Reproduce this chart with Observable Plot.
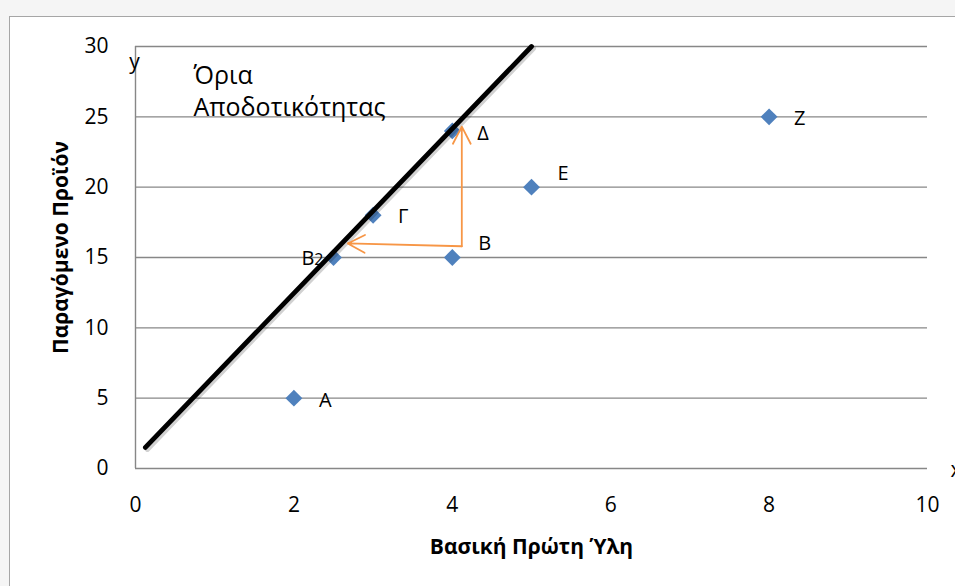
<!DOCTYPE html>
<html>
<head>
<meta charset="utf-8">
<script src="https://cdn.jsdelivr.net/npm/d3@7"></script>
<script src="https://cdn.jsdelivr.net/npm/@observablehq/plot@0.6"></script>
<style>
  html, body { margin: 0; padding: 0; background: #fff; }
  #page { position: relative; width: 955px; height: 586px; overflow: hidden; background: #f5f5f5; }
  #box { position: absolute; left: 9px; top: 16px; width: 960px; height: 600px; background: #fff; border-left: 1.5px solid #a6a6a6; border-top: 1.5px solid #a6a6a6; }
  #chart { position: absolute; left: 0; top: 0; }
  #chart svg { font-family: "Open Sans", "Noto Sans", sans-serif; }
</style>
</head>
<body>
<div id="page"><div id="box"></div><div id="chart"></div></div>
<script>
// Production units: raw material used (x) and product obtained (y)
const unitNames = ["A", "B", "B2", "Γ", "Δ", "E", "Z"];
const rawMaterial = [2, 4, 2.5, 3, 4, 5, 8];
const product = [5, 15, 15, 18, 24, 20, 25];

// Efficiency frontier drawn through the best units
const frontierX = [0.125, 5];
const frontierY = [1.5, 30];

// Moves of unit B towards the frontier (input- and output-oriented)
const moveX1 = [4.12, 4.12];
const moveY1 = [15.8, 15.8];
const moveX2 = [2.68, 4.12];
const moveY2 = [16.0, 24.3];

const xTicks = [0, 2, 4, 6, 8, 10];
const yTicks = [0, 5, 10, 15, 20, 25, 30];

const xTitle = "Βασική Πρώτη Ύλη";
const yTitle = "Παραγόμενο Προϊόν";
const frontierNote = "Όρια\nΑποδοτικότητας";

const units = unitNames.map((name, i) => ({name, x: rawMaterial[i], y: product[i]}));
const frontier = frontierX.map((x, i) => ({x, y: frontierY[i]}));
const moves = moveX1.map((x1, i) => ({x1, y1: moveY1[i], x2: moveX2[i], y2: moveY2[i]}));

// label placement around each diamond
const labelShift = {A: [25, 2], B: [26, -14], B2: [-10, 1], "Γ": [25, 1], "Δ": [25, 3], E: [26, -14], Z: [25, 2]};

const gridColor = "#878787";

const chart = Plot.plot({
  width: 955,
  height: 586,
  marginLeft: 135,
  marginRight: 28,
  marginTop: 46,
  marginBottom: 118,
  style: {background: "transparent", fontSize: "21px", color: "#000"},
  x: {domain: [0, 10], ticks: xTicks, tickSize: 0, tickPadding: 29, label: null},
  y: {domain: [0, 30], ticks: yTicks, tickSize: 0, tickPadding: 27, label: null},
  marks: [
    Plot.ruleY(yTicks, {x1: 0, x2: 10, stroke: gridColor, strokeWidth: 1.4}),
    Plot.ruleX([0], {y1: 0, y2: 30, stroke: gridColor, strokeWidth: 1.4}),
    Plot.dot(units, {x: "x", y: "y", symbol: "diamond2", r: 7.6, fill: "#4F81BD", stroke: "none"}),
    Plot.line(frontier, {x: "x", y: "y", stroke: "#000", strokeOpacity: 0.18, strokeWidth: 5, dx: 2, dy: 2}),
    Plot.line(frontier, {x: "x", y: "y", stroke: "#000", strokeWidth: 4.8}),
    Plot.arrow(moves, {x1: "x1", y1: "y1", x2: "x2", y2: "y2", stroke: "#F79646", strokeWidth: 1.8, headLength: 16, headAngle: 55}),
    ...unitNames.map(n => Plot.text(units.filter(d => d.name === n), {
      x: "x", y: "y", text: "name",
      textAnchor: labelShift[n][0] < 0 ? "end" : "start",
      dx: labelShift[n][0], dy: labelShift[n][1],
      fontSize: 20, fill: "#000"
    })),
    Plot.text([frontierNote], {frameAnchor: "top-left", textAnchor: "start", lineAnchor: "top", dx: 58, dy: 14, fontSize: 25, lineHeight: 1.3, fill: "#000"}),
    Plot.text(["y"], {frameAnchor: "top-left", textAnchor: "middle", dx: -1, dy: 8, fontSize: 21, fill: "#000"}),
    Plot.text(["x"], {frameAnchor: "bottom-right", textAnchor: "start", dx: 23, dy: 8, fontSize: 21, fill: "#000"}),
    Plot.text([xTitle], {frameAnchor: "bottom", dy: 85, fontSize: 21, fontWeight: "bold", fill: "#000"}),
    Plot.text([yTitle], {frameAnchor: "left", textAnchor: "middle", dx: -74, dy: -10, rotate: -90, fontSize: 21, fontWeight: "bold", fill: "#000"})
  ]
});

// smaller digit in the "B2" label
d3.select(chart).selectAll("text").filter(function () { return this.textContent === "B2"; })
  .each(function () {
    const t = d3.select(this);
    t.text("B");
    t.append("tspan").attr("font-size", 16).text("2");
  });

document.getElementById("chart").appendChild(chart);
</script>
</body>
</html>
